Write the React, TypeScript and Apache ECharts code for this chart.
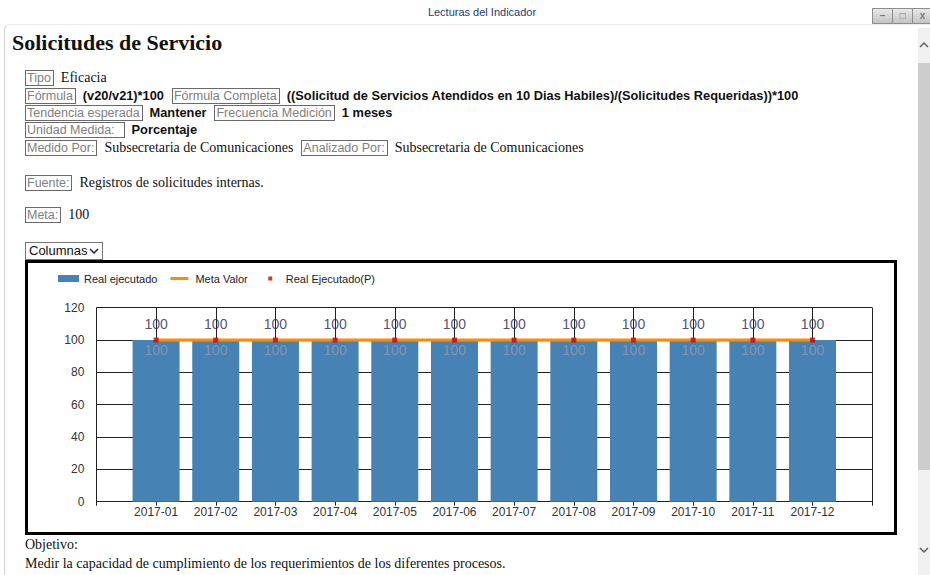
import React, { useEffect, useRef } from "react";
import * as echarts from "echarts";

const categories = [
  "2017-01", "2017-02", "2017-03", "2017-04", "2017-05", "2017-06",
  "2017-07", "2017-08", "2017-09", "2017-10", "2017-11", "2017-12",
];
const realEjecutado = [100, 100, 100, 100, 100, 100, 100, 100, 100, 100, 100, 100];
const metaValor = [100, 100, 100, 100, 100, 100, 100, 100, 100, 100, 100, 100];
const realEjecutadoP = [100, 100, 100, 100, 100, 100, 100, 100, 100, 100, 100, 100];
const yTicks = [0, 20, 40, 60, 80, 100, 120];

const SANS = '"Liberation Sans", Arial, sans-serif';
const SERIF = '"Liberation Serif", "Times New Roman", serif';

const Lbl = ({ t, pr = 1 }: { t: string; pr?: number }) => (
  <span
    style={{
      display: "inline-block",
      border: "1px solid #6a6a6a",
      color: "#808080",
      fontFamily: SANS,
      fontSize: 12.5,
      lineHeight: "14px",
      padding: `0 ${pr + 1}px 0 1px`,
      verticalAlign: "middle",
      marginRight: 7,
    }}
  >
    {t}
  </span>
);
const Ser = ({ t }: { t: string }) => (
  <span style={{ fontFamily: SERIF, fontSize: 14, color: "#111", verticalAlign: "middle", marginRight: 8 }}>{t}</span>
);
const Bld = ({ t }: { t: string }) => (
  <span style={{ fontFamily: SANS, fontSize: 12.8, fontWeight: "bold", color: "#111", verticalAlign: "middle", marginRight: 8 }}>{t}</span>
);
const Line = ({ y, children }: { y: number; children: React.ReactNode }) => (
  <div style={{ position: "absolute", left: 25, top: y - 9, height: 18, lineHeight: "18px", whiteSpace: "nowrap" }}>{children}</div>
);

export default function App() {
  const ref = useRef<HTMLDivElement>(null);
  useEffect(() => {
    if (!ref.current) return;
    const chart = echarts.init(ref.current, undefined, { renderer: "svg" });
    const idx = categories.map((_, i) => i);
    const option: any = {
      animation: false,
      textStyle: { fontFamily: SANS },
      legend: {
        left: 25,
        top: 5,
        itemWidth: 21,
        itemHeight: 7,
        itemGap: 12,
        textStyle: { fontSize: 11, color: "#222", fontFamily: SANS },
        data: [
          { name: "Real ejecutado", icon: "rect" },
          { name: "Meta Valor", icon: "path://M0,0M21,7M1,2h18v3h-18z" },
          { name: "Real Ejecutado(P)", icon: "path://M0,0M21,7M8.5,1.5h4v4h-4z" },
        ],
      },
      grid: { left: 68.4, right: 21.8, top: 44.7, bottom: 30.3 },
      xAxis: {
        type: "value",
        min: -1,
        max: categories.length,
        interval: 1,
        axisLine: { show: true, lineStyle: { color: "#222", width: 1 } },
        axisTick: { show: true, length: 4, lineStyle: { color: "#222" } },
        splitLine: { show: true, lineStyle: { color: "#222", width: 1 } },
        axisLabel: {
          margin: 4,
          fontSize: 12,
          color: "#333",
          formatter: (v: number) => categories[v] ?? "",
        },
      },
      yAxis: {
        type: "value",
        min: yTicks[0],
        max: yTicks[yTicks.length - 1],
        interval: yTicks[1] - yTicks[0],
        axisLine: { show: true, lineStyle: { color: "#222", width: 1 } },
        axisTick: { show: true, length: 9, lineStyle: { color: "#222" } },
        splitLine: { show: true, lineStyle: { color: "#222", width: 1 } },
        axisLabel: { margin: 12, fontSize: 12, color: "#333" },
      },
      series: [
        {
          name: "Real ejecutado",
          type: "bar",
          barWidth: 47,
          data: idx.map((i) => [i, realEjecutado[i]]),
          itemStyle: { color: "#4682B4" },
          label: {
            show: true,
            position: "insideTop",
            distance: 3,
            fontSize: 14,
            color: "#8294ae",
            formatter: (p: any) => String(p.value[1]),
          },
          z: 2,
        },
        {
          name: "Meta Valor",
          type: "line",
          data: idx.map((i) => [i, metaValor[i]]),
          symbol: "none",
          lineStyle: { color: "#FF8C00", width: 3 },
          itemStyle: { color: "#FF8C00" },
          z: 3,
        },
        {
          name: "Real Ejecutado(P)",
          type: "scatter",
          data: idx.map((i) => [i, realEjecutadoP[i]]),
          symbol: "rect",
          symbolSize: 5,
          itemStyle: { color: "#CC0000" },
          label: {
            show: true,
            position: "top",
            distance: 7,
            fontSize: 14,
            color: "#22244f",
            formatter: (p: any) => String(p.value[1]),
          },
          z: 4,
        },
      ],
    };
    chart.setOption(option);
    return () => chart.dispose();
  }, []);

  return (
    <div style={{ position: "fixed", left: 0, top: 0, width: 930, height: 575, background: "#fff", overflow: "hidden", fontFamily: SERIF }}>
      {/* window frame */}
      <div style={{ position: "absolute", left: 4, top: 24, width: 930, height: 560, borderLeft: "1px solid #d2d2d2", borderTop: "1px solid #ececec", borderTopLeftRadius: 6 }} />
      <div style={{ position: "absolute", left: 382, top: 6, width: 200, textAlign: "center", fontFamily: SANS, fontSize: 11, color: "#1f3c6e" }}>
        Lecturas del Indicador
      </div>
      <div style={{ position: "absolute", left: 872, top: 8, display: "flex" }}>
        {["–", "□", "x"].map((g, i) => (
          <div key={i} style={{ width: 19, height: 14, border: "1px solid #8e8e8e", marginLeft: i ? -1 : 0, background: "linear-gradient(#e8e8e8, #c4c4c4)", color: "#7a7a7a", fontFamily: SANS, fontSize: 10, lineHeight: "13px", textAlign: "center", fontWeight: "bold" }}>
            {g}
          </div>
        ))}
      </div>
      {/* scrollbar */}
      <div style={{ position: "absolute", left: 918, top: 28, width: 12, height: 547, background: "#f0f0f0" }} />
      <div style={{ position: "absolute", left: 918, top: 63, width: 12, height: 407, background: "#cdcdcd" }} />
      <svg style={{ position: "absolute", left: 918, top: 40 }} width={12} height={10}>
        <polyline points="2,7 6,3 10,7" fill="none" stroke="#606060" strokeWidth={1.5} />
      </svg>
      <svg style={{ position: "absolute", left: 918, top: 545 }} width={12} height={10}>
        <polyline points="2,3 6,7 10,3" fill="none" stroke="#606060" strokeWidth={1.5} />
      </svg>

      <div style={{ position: "absolute", left: 12, top: 30, fontFamily: SERIF, fontWeight: "bold", fontSize: 22, lineHeight: "25px", color: "#111" }}>
        Solicitudes de Servicio
      </div>

      <Line y={77}><Lbl t="Tipo" /><Ser t="Eficacia" /></Line>
      <Line y={95}>
        <Lbl t="Fórmula" /><Bld t="(v20/v21)*100" />
        <Lbl t="Fórmula Completa" /><Bld t="((Solicitud de Servicios Atendidos en 10 Dias Habiles)/(Solicitudes Requeridas))*100" />
      </Line>
      <Line y={112}>
        <Lbl t="Tendencia esperada" /><Bld t="Mantener" />
        <Lbl t="Frecuencia Medición" /><Bld t="1 meses" />
      </Line>
      <Line y={129}><Lbl t="Unidad Medida:" pr={8} /><Bld t="Porcentaje" /></Line>
      <Line y={147}>
        <Lbl t="Medido Por:" /><Ser t="Subsecretaria de Comunicaciones" />
        <Lbl t="Analizado Por:" /><Ser t="Subsecretaria de Comunicaciones" />
      </Line>
      <Line y={182}><Lbl t="Fuente:" /><Ser t="Registros de solicitudes internas." /></Line>
      <Line y={214}><Lbl t="Meta:" /><Ser t="100" /></Line>

      <div style={{ position: "absolute", left: 25, top: 242, width: 78, height: 18, boxSizing: "border-box", border: "1px solid #767676", background: "#fff", fontFamily: SANS, fontSize: 13, lineHeight: "16px", paddingLeft: 3, color: "#111" }}>
        Columnas
        <svg style={{ position: "absolute", left: 63, top: 4 }} width={10} height={8}>
          <polyline points="1,2 5,6 9,2" fill="none" stroke="#222" strokeWidth={1.5} />
        </svg>
      </div>

      <div style={{ position: "absolute", left: 25, top: 260, width: 872, height: 275, boxSizing: "border-box", border: "3px solid #000", background: "#fff" }}>
        <div ref={ref} style={{ width: 866, height: 269 }} />
      </div>

      <div style={{ position: "absolute", left: 25, top: 536, fontFamily: SERIF, fontSize: 14, lineHeight: "18px", color: "#111" }}>Objetivo:</div>
      <div style={{ position: "absolute", left: 25, top: 555, fontFamily: SERIF, fontSize: 14, lineHeight: "18px", color: "#111" }}>
        Medir la capacidad de cumplimiento de los requerimientos de los diferentes procesos.
      </div>
    </div>
  );
}
